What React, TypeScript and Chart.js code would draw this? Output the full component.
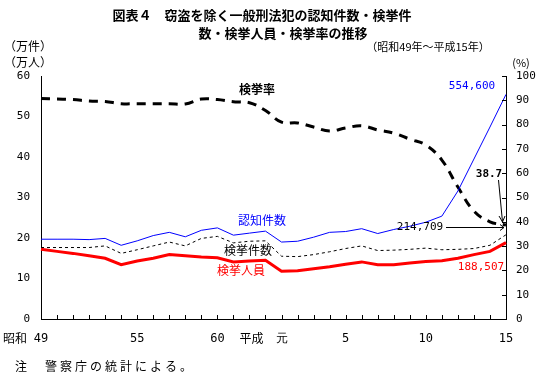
import React, { useEffect, useRef } from "react";
import { Chart, registerables } from "chart.js";

Chart.register(...registerables);

// 昭和49年(1974) ～ 平成15年(2003)
const years = [
  "S49", "S50", "S51", "S52", "S53", "S54", "S55", "S56", "S57", "S58",
  "S59", "S60", "S61", "S62", "S63", "H1", "H2", "H3", "H4", "H5",
  "H6", "H7", "H8", "H9", "H10", "H11", "H12", "H13", "H14", "H15",
];
const tickLabels = [
  "49", "", "", "", "", "", "55", "", "", "", "", "60", "", "", "", "元",
  "", "", "", "5", "", "", "", "", "10", "", "", "", "", "15",
];
// 認知件数 (万件)
const ninchiKensu = [
  19.7, 19.7, 19.7, 19.6, 19.9, 18.2, 19.3, 20.6, 21.4, 20.3,
  21.9, 22.5, 20.7, 21.2, 21.7, 19.0, 19.2, 20.2, 21.4, 21.6,
  22.3, 21.1, 22.1, 22.9, 23.9, 25.4, 31.6, 39.5, 47.4, 55.46,
];
// 検挙件数 (万件)
const kenkyoKensu = [
  17.65, 17.65, 17.65, 17.65, 18.05, 16.2, 17.1, 18.05, 19.0, 18.05,
  19.9, 20.4, 18.8, 19.2, 19.3, 15.5, 15.4, 15.9, 16.6, 17.4,
  18.05, 16.9, 17.0, 17.2, 17.5, 17.1, 17.2, 17.4, 18.2, 20.8,
];
// 検挙人員 (万人)
const kenkyoJinin = [
  17.2, 16.7, 16.2, 15.6, 15.0, 13.4, 14.3, 15.0, 15.9, 15.6,
  15.3, 15.1, 14.1, 14.3, 14.5, 11.8, 11.9, 12.4, 12.9, 13.5,
  14.1, 13.4, 13.4, 13.8, 14.2, 14.4, 15.0, 15.9, 16.7, 18.85,
];
// 検挙率 (%)
const kenkyoRitsu = [
  90.7, 90.5, 90.3, 89.7, 89.5, 88.6, 88.6, 88.6, 88.6, 88.5,
  90.5, 90.3, 89.4, 89.0, 85.8, 81.0, 80.7, 79.0, 77.4, 78.6,
  79.5, 77.8, 76.5, 74.0, 71.6, 65.4, 54.3, 44.4, 40.0, 38.7,
];

const JP = '"Noto Sans CJK JP", sans-serif';
const MONO = '"DejaVu Sans Mono", monospace';

const annotations = {
  id: "annotations",
  afterDraw(chart: any) {
    const ctx = chart.ctx as CanvasRenderingContext2D;
    const xs = chart.scales.x;
    const yr = chart.scales.y1;
    const area = chart.chartArea;
    ctx.save();

    // inner tick marks on bottom axis
    ctx.strokeStyle = "#000";
    ctx.lineWidth = 1;
    ctx.beginPath();
    for (let i = 0; i < years.length; i++) {
      const x = Math.round(xs.getPixelForValue(i)) + 0.5;
      ctx.moveTo(x, area.bottom);
      ctx.lineTo(x, area.bottom - 4);
    }
    // inner tick marks on right axis
    for (let v = 0; v <= 100; v += 10) {
      const y = Math.round(yr.getPixelForValue(v)) + 0.5;
      ctx.moveTo(area.right, y);
      ctx.lineTo(area.right - 4, y);
    }
    ctx.stroke();

    const text = (s: string, x: number, y: number, font: string, color: string, align: CanvasTextAlign = "center", spacing = "0px") => {
      ctx.font = font;
      ctx.fillStyle = color;
      ctx.textAlign = align;
      ctx.textBaseline = "middle";
      (ctx as any).letterSpacing = spacing;
      ctx.fillText(s, x, y);
      (ctx as any).letterSpacing = "0px";
    };

    // titles
    text("図表４　窃盗を除く一般刑法犯の認知件数・検挙件", 262, 15, `bold 13px ${JP}`, "#000");
    text("数・検挙人員・検挙率の推移", 283, 33, `bold 13px ${JP}`, "#000");
    text("（万件）", 28, 46, `12px ${JP}`, "#000");
    text("（万人）", 28, 62, `12px ${JP}`, "#000");
    text("（昭和49年～平成15年）", 428, 47, `11px ${JP}`, "#000");
    text("(%)", 521, 63, `11px ${JP}`, "#000");

    // era prefixes on x axis
    const yLab = area.bottom + 19;
    text("昭和", xs.getPixelForValue(0) - 26, yLab, `12px ${JP}`, "#000");
    text("平成", xs.getPixelForValue(15) - 30, yLab, `12px ${JP}`, "#000");

    // series labels
    text("検挙率", 257, 89, `bold 12px ${JP}`, "#000");
    text("認知件数", 262, 220, `12px ${JP}`, "#0000ff");
    text("検挙件数", 248, 250, `12px ${JP}`, "#000");
    text("検挙人員", 241, 270, `12px ${JP}`, "#ff0000");

    // value labels
    text("554,600", 472, 86, `11px ${MONO}`, "#0000ff");
    text("38.7", 489, 174, `bold 11px ${MONO}`, "#000");
    text("214,709", 420, 227, `11px ${MONO}`, "#000");
    text("188,507", 481, 267, `11px ${MONO}`, "#ff0000");

    // arrows
    ctx.strokeStyle = "#000";
    ctx.lineWidth = 1;
    ctx.beginPath();
    ctx.moveTo(446, 227.5);
    ctx.lineTo(504, 227.5);
    ctx.moveTo(500, 224.5);
    ctx.lineTo(504, 227.5);
    ctx.lineTo(500, 230.5);
    ctx.moveTo(498.5, 180);
    ctx.lineTo(502.5, 222);
    ctx.moveTo(499, 216);
    ctx.lineTo(502.5, 222);
    ctx.lineTo(505, 216);
    ctx.stroke();

    // footnote
    text("注　警察庁の統計による。", 15, 366, `12px ${JP}`, "#000", "left", "3px");

    ctx.restore();
  },
};

export default function App() {
  const ref = useRef<HTMLCanvasElement | null>(null);

  useEffect(() => {
    if (!ref.current) return;
    const tickFont = { family: MONO, size: 11 };
    const chart = new Chart(ref.current, {
      type: "line",
      data: {
        labels: years,
        datasets: [
          {
            label: "認知件数",
            data: ninchiKensu,
            yAxisID: "y",
            borderColor: "#0000ff",
            borderWidth: 1,
            pointRadius: 0,
            tension: 0,
            fill: false,
          },
          {
            label: "検挙件数",
            data: kenkyoKensu,
            yAxisID: "y",
            borderColor: "#000",
            borderWidth: 1,
            borderDash: [3, 3],
            pointRadius: 0,
            tension: 0,
            fill: false,
          },
          {
            label: "検挙人員",
            data: kenkyoJinin,
            yAxisID: "y",
            borderColor: "#ff0000",
            borderWidth: 3,
            pointRadius: 0,
            tension: 0,
            fill: false,
          },
          {
            label: "検挙率",
            data: kenkyoRitsu,
            yAxisID: "y1",
            borderColor: "#000",
            borderWidth: 3,
            borderDash: [9, 7],
            pointRadius: 0,
            tension: 0.4,
            fill: false,
          },
        ],
      },
      options: {
        responsive: false,
        animation: false,
        layout: { padding: { top: 76, left: 0, right: 0, bottom: 0 } },
        plugins: { legend: { display: false }, tooltip: { enabled: false }, title: { display: false } },
        scales: {
          x: {
            type: "category",
            offset: false,
            grid: { display: false, drawTicks: false },
            border: { display: true, color: "#000", width: 1 },
            ticks: {
              autoSkip: false,
              maxRotation: 0,
              minRotation: 0,
              padding: 13,
              color: "#000",
              font: { family: MONO, size: 12 },
              callback: (_v: any, i: number) => tickLabels[i],
            },
            afterFit: (s: any) => { s.height = 62; },
          },
          y: {
            position: "left",
            min: 0,
            max: 60,
            grid: { display: false, drawTicks: false },
            border: { display: true, color: "#000", width: 1 },
            ticks: { stepSize: 10, padding: 11, color: "#000", font: tickFont },
            afterFit: (s: any) => { s.width = 41; },
          },
          y1: {
            position: "right",
            min: 0,
            max: 100,
            grid: { display: false, drawTicks: false },
            border: { display: true, color: "#000", width: 1 },
            ticks: { stepSize: 10, padding: 10, color: "#000", font: tickFont },
            afterFit: (s: any) => { s.width = 36; },
          },
        },
      },
      plugins: [annotations],
    } as any);
    return () => chart.destroy();
  }, []);

  return (
    <div style={{ position: "absolute", left: 0, top: 0, width: 542, height: 381, background: "#fff" }}>
      <canvas ref={ref} width={542} height={381} style={{ width: 542, height: 381, display: "block" }} />
    </div>
  );
}
